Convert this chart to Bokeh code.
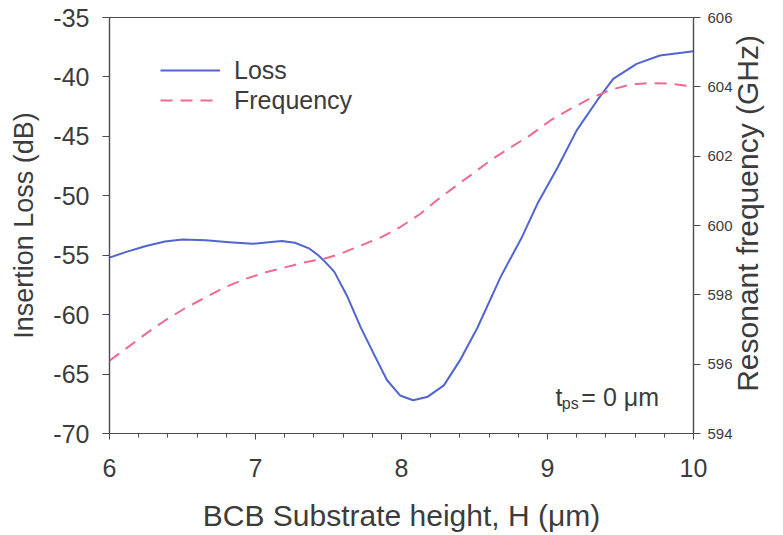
import math
from bokeh.plotting import figure
from bokeh.models import (Range1d, LinearAxis, FixedTicker, Legend, LegendItem, Label)
from bokeh.embed import file_html
from bokeh.resources import INLINE

# ---- data ----
loss_h = [6.00, 6.11, 6.25, 6.38, 6.50, 6.66, 6.82, 6.98, 7.09, 7.18, 7.27, 7.37,
          7.43, 7.48, 7.54, 7.63, 7.72, 7.81, 7.90, 7.99, 8.08, 8.18, 8.29, 8.40,
          8.52, 8.68, 8.82, 8.93, 9.07, 9.20, 9.34, 9.45, 9.61, 9.77, 10.00]
loss_db = [-55.2, -54.74, -54.23, -53.84, -53.67, -53.75, -53.9, -54.04, -53.9, -53.8,
           -53.95, -54.45, -55.0, -55.6, -56.4, -58.5, -61.05, -63.3, -65.5, -66.8,
           -67.2, -66.9, -65.95, -63.85, -61.1, -56.8, -53.6, -50.7, -47.6, -44.5,
           -41.98, -40.16, -38.9, -38.2, -37.83]

freq_h = [6.00, 6.11, 6.25, 6.38, 6.52, 6.66, 6.79, 6.93, 7.07, 7.21, 7.34, 7.47,
          7.58, 7.72, 7.86, 7.99, 8.13, 8.24, 8.36, 8.47, 8.61, 8.75, 8.88, 9.02,
          9.16, 9.29, 9.43, 9.57, 9.71, 9.84, 10.00]
freq_ghz = [596.1, 596.44, 596.88, 597.26, 597.62, 597.93, 598.22, 598.46, 598.65,
            598.8, 598.94, 599.04, 599.18, 599.42, 599.66, 599.95, 600.34, 600.72,
            601.1, 601.44, 601.88, 602.26, 602.6, 603.03, 603.37, 603.66, 603.91,
            604.07, 604.11, 604.09, 604.01]

x_ticks = [6, 7, 8, 9, 10]
loss_ticks = [-70, -65, -60, -55, -50, -45, -40, -35]
freq_ticks = [594, 596, 598, 600, 602, 604, 606]

FONT = "Liberation Sans"
TXT = "#3c3c3c"
AX = "#4a4a55"
BLUE = "#5064d2"
PINK = "#f06a8e"

p = figure(width=783, height=535, output_backend="svg", toolbar_location=None,
           x_range=Range1d(6, 10), y_range=Range1d(-70, -35),
           min_border_left=109, min_border_right=90, min_border_top=17,
           min_border_bottom=102)
p.grid.visible = False
p.outline_line_color = AX
p.outline_line_width = 1.2
p.background_fill_color = "white"
p.border_fill_color = "white"

p.extra_y_ranges = {"freq": Range1d(594, 606)}

l1 = p.line(loss_h, loss_db, line_color=BLUE, line_width=2, line_join="round")
l2 = p.line(freq_h, freq_ghz, y_range_name="freq", line_color=PINK, line_width=2,
            line_dash="12 8")

# x axis
xa = p.xaxis[0]
xa.ticker = FixedTicker(ticks=x_ticks, minor_ticks=[6 + 0.2 * i for i in range(21)])
xa.axis_label = "BCB Substrate height, H (\u03bcm)"

# left axis
ya = p.yaxis[0]
ya.ticker = FixedTicker(ticks=loss_ticks)
ya.major_label_overrides = {t: str(t) for t in loss_ticks}
ya.axis_label = "Insertion Loss (dB)"

# right axis (title reads bottom to top, as in the reference)
ra = LinearAxis(y_range_name="freq", ticker=FixedTicker(ticks=freq_ticks))
p.add_layout(ra, "right")

for ax in (xa, ya, ra):
    ax.axis_line_color = AX
    ax.axis_line_width = 1.2
    ax.major_tick_line_color = AX
    ax.minor_tick_line_color = AX
    ax.major_tick_in = 0
    ax.minor_tick_in = 0
    ax.major_label_text_font = FONT
    ax.major_label_text_color = TXT
    ax.axis_label_text_font = FONT
    ax.axis_label_text_color = TXT
    ax.axis_label_text_font_style = "normal"

xa.major_tick_out = 6
xa.minor_tick_out = 4
xa.major_label_text_font_size = "25px"
xa.major_label_standoff = 19
xa.axis_label_standoff = 19
xa.axis_label_text_font_size = "30px"

ya.major_tick_out = 7
ya.minor_tick_out = 0
ya.major_label_text_font_size = "25px"
ya.major_label_standoff = 13
ya.axis_label_standoff = 11
ya.axis_label_text_font_size = "27px"

ra.major_tick_out = 7
ra.minor_tick_out = 0
ra.major_label_text_font_size = "15px"
ra.major_label_standoff = 7

pad = "\u00a0" * 5
try:
    ra.axis_label_align = "start"
except AttributeError:
    pad = ""
ra.axis_label = pad + "Resonant frequency (GHz)"
ra.axis_label_orientation = math.pi / 2
ra.axis_label_text_font_size = "30px"
ra.axis_label_text_baseline = "top"
ra.axis_label_standoff = 12

legend = Legend(items=[LegendItem(label="Loss", renderers=[l1]),
                       LegendItem(label="Frequency", renderers=[l2])],
                location=(51, 318), glyph_width=60, glyph_height=30,
                label_height=30, label_standoff=14, spacing=0, padding=0, margin=0,
                border_line_color=None, background_fill_alpha=0,
                label_text_font=FONT, label_text_font_size="25px",
                label_text_color=TXT)
p.add_layout(legend, "center")

# annotation t_ps = 0 um
ann_y = -66.96
p.add_layout(Label(x=9.055, y=ann_y, text="t", text_font=FONT, text_font_size="25px",
                   text_color=TXT, text_baseline="alphabetic"))
p.add_layout(Label(x=9.098, y=-67.5, text="ps", text_font=FONT, text_font_size="16px",
                   text_color=TXT, text_baseline="alphabetic"))
p.add_layout(Label(x=9.232, y=ann_y, text="= 0 \u03bcm", text_font=FONT,
                   text_font_size="25px", text_color=TXT, text_baseline="alphabetic"))

open("out.html", "w").write(file_html(p, INLINE))
